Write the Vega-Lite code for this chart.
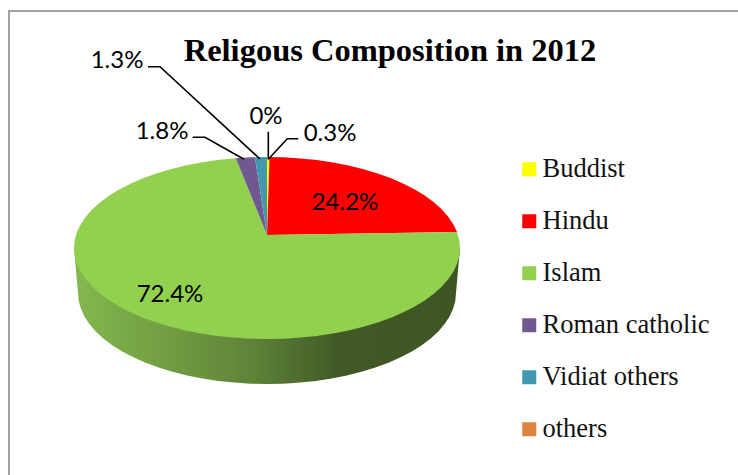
{
  "$schema": "https://vega.github.io/schema/vega-lite/v6.json",
  "width": 738,
  "height": 475,
  "autosize": "none",
  "padding": 0,
  "background": "white",
  "title": {
    "text": "Religous Composition in 2012",
    "anchor": "middle",
    "frame": "group",
    "font": "Liberation Serif",
    "fontWeight": "bold",
    "fontSize": 32.5,
    "color": "black",
    "dx": 21,
    "dy": 71
  },
  "view": {"stroke": null},
  "projection": {"type": "identity", "reflectY": true, "scale": 1, "translate": [267, 235]},
  "datasets": {
    "frame": [
      {"type": "Feature", "geometry": {"type": "LineString", "coordinates": [[-258, -245], [-258, 224], [475, 224]]}}
    ],
    "wall": [
      {"type": "Feature", "geometry": {"type": "Polygon", "coordinates": [[[193, -13], [189, -58], [188.3, -65.9], [186.1, -73.8], [182.6, -81.6], [177.6, -89.1], [171.3, -96.5], [163.7, -103.5], [154.8, -110.2], [144.8, -116.5], [133.6, -122.3], [121.5, -127.7], [108.4, -132.5], [94.5, -136.8], [79.9, -140.5], [64.6, -143.5], [48.9, -145.9], [32.8, -147.6], [16.5, -148.7], [0, -149], [-16.5, -148.7], [-32.8, -147.6], [-48.9, -145.9], [-64.6, -143.5], [-79.9, -140.5], [-94.5, -136.8], [-108.4, -132.5], [-121.5, -127.7], [-133.6, -122.3], [-144.8, -116.5], [-154.8, -110.2], [-163.7, -103.5], [-171.3, -96.5], [-177.6, -89.1], [-182.6, -81.6], [-186.1, -73.8], [-188.3, -65.9], [-189, -58], [-193, -13], [193, -13]]]}}
    ],
    "slices": [
      {"slice": "Buddist", "share": 0.3, "type": "Feature", "geometry": {"type": "Polygon", "coordinates": [[[0, 0], [0, 78], [2.5, 78], [0, 0]]]}},
      {"slice": "Hindu", "share": 24.2, "type": "Feature", "geometry": {"type": "Polygon", "coordinates": [[[0, 0], [2.5, 78], [16.8, 77.7], [33.5, 76.6], [49.9, 74.9], [66, 72.5], [81.6, 69.5], [96.5, 65.8], [110.7, 61.5], [124.1, 56.7], [136.5, 51.3], [147.8, 45.5], [158.1, 39.2], [167.1, 32.5], [174.9, 25.5], [181.4, 18.1], [186.4, 10.6], [190, 3], [0, 0]]]}},
      {"slice": "Islam", "share": 72.4, "type": "Feature", "geometry": {"type": "Polygon", "coordinates": [[[0, 0], [190, 3], [190.1, 2.8], [192.3, -5.1], [193, -13], [192.3, -20.9], [190.1, -28.8], [186.4, -36.6], [181.4, -44.1], [174.9, -51.5], [167.1, -58.5], [158.1, -65.2], [147.8, -71.5], [136.5, -77.3], [124.1, -82.7], [110.7, -87.5], [96.5, -91.8], [81.6, -95.5], [66, -98.5], [49.9, -100.9], [33.5, -102.6], [16.8, -103.7], [0, -104], [-16.8, -103.7], [-33.5, -102.6], [-49.9, -100.9], [-66, -98.5], [-81.6, -95.5], [-96.5, -91.8], [-110.7, -87.5], [-124.1, -82.7], [-136.5, -77.3], [-147.8, -71.5], [-158.1, -65.2], [-167.1, -58.5], [-174.9, -51.5], [-181.4, -44.1], [-186.4, -36.6], [-190.1, -28.8], [-192.3, -20.9], [-193, -13], [-192.3, -5.1], [-190.1, 2.8], [-186.4, 10.6], [-181.4, 18.1], [-174.9, 25.5], [-167.1, 32.5], [-158.1, 39.2], [-147.8, 45.5], [-136.5, 51.3], [-124.1, 56.7], [-110.7, 61.5], [-96.5, 65.8], [-81.6, 69.5], [-66, 72.5], [-49.9, 74.9], [-31.2, 76.8], [0, 0]]]}},
      {"slice": "Roman catholic", "share": 1.8, "type": "Feature", "geometry": {"type": "Polygon", "coordinates": [[[0, 0], [-31.2, 76.8], [-16.8, 77.7], [-12.1, 77.8], [0, 0]]]}},
      {"slice": "Vidiat others", "share": 1.3, "type": "Feature", "geometry": {"type": "Polygon", "coordinates": [[[0, 0], [-12.1, 77.8], [0, 78], [0, 0]]]}},
      {"slice": "others", "share": 0, "type": "Feature", "geometry": {"type": "Polygon", "coordinates": [[[0, 0], [0, 78], [0, 78], [0, 0]]]}}
    ],
    "leaders": [
      {"slice": "Vidiat others", "type": "Feature", "geometry": {"type": "LineString", "coordinates": [[-119, 168.3], [-107, 168.3], [-7, 76]]}},
      {"slice": "Roman catholic", "type": "Feature", "geometry": {"type": "LineString", "coordinates": [[-74.3, 97.7], [-62, 97.7], [-23, 75.7]]}},
      {"slice": "others", "type": "Feature", "geometry": {"type": "LineString", "coordinates": [[1.3, 103.3], [1.3, 75.7]]}},
      {"slice": "Buddist", "type": "Feature", "geometry": {"type": "LineString", "coordinates": [[31.3, 96.3], [20.3, 96.3], [1.3, 75.7]]}}
    ],
    "labels": [
      {"slice": "Buddist", "label": "0.3%", "lon": 63, "lat": 101},
      {"slice": "Hindu", "label": "24.2%", "lon": 78, "lat": 32},
      {"slice": "Islam", "label": "72.4%", "lon": -97, "lat": -60},
      {"slice": "Roman catholic", "label": "1.8%", "lon": -105, "lat": 103},
      {"slice": "Vidiat others", "label": "1.3%", "lon": -150, "lat": 174},
      {"slice": "others", "label": "0%", "lon": -1, "lat": 118}
    ]
  },
  "layer": [
    {
      "data": {"name": "wall"},
      "mark": {
        "type": "geoshape",
        "stroke": null,
        "fill": {
          "gradient": "linear",
          "x1": 0, "y1": 0, "x2": 1, "y2": 0,
          "stops": [
            {"offset": 0, "color": "#84b84e"},
            {"offset": 0.25, "color": "#719c42"},
            {"offset": 0.47, "color": "#5e8238"},
            {"offset": 0.68, "color": "#415a26"},
            {"offset": 1, "color": "#3f5423"}
          ]
        }
      }
    },
    {
      "data": {"name": "slices"},
      "mark": {"type": "geoshape", "stroke": null},
      "encoding": {
        "color": {
          "field": "slice",
          "type": "nominal",
          "scale": {
            "domain": ["Buddist", "Hindu", "Islam", "Roman catholic", "Vidiat others", "others"],
            "range": ["#ffff00", "#ff0000", "#92d050", "#71588f", "#4198af", "#db843d"]
          },
          "legend": {
            "title": null,
            "orient": "none",
            "legendX": 516,
            "legendY": 156,
            "symbolType": "square",
            "symbolSize": 196,
            "symbolStrokeWidth": 0,
            "symbolOpacity": 1,
            "labelFont": "Liberation Serif",
            "labelFontSize": 26.5,
            "labelColor": "#111111",
            "labelOffset": 0,
            "rowPadding": 25,
            "labelLimit": 220
          }
        }
      }
    },
    {
      "data": {"name": "leaders"},
      "mark": {"type": "geoshape", "filled": false, "stroke": "black", "strokeWidth": 1.6}
    },
    {
      "data": {"name": "labels"},
      "mark": {"type": "text", "font": "Lato", "fontSize": 24, "color": "black", "align": "center", "baseline": "middle"},
      "encoding": {
        "longitude": {"field": "lon", "type": "quantitative"},
        "latitude": {"field": "lat", "type": "quantitative"},
        "text": {"field": "label", "type": "nominal"}
      }
    },
    {
      "data": {"name": "frame"},
      "mark": {"type": "geoshape", "filled": false, "stroke": "#a3a3a3", "strokeWidth": 2}
    }
  ]
}
